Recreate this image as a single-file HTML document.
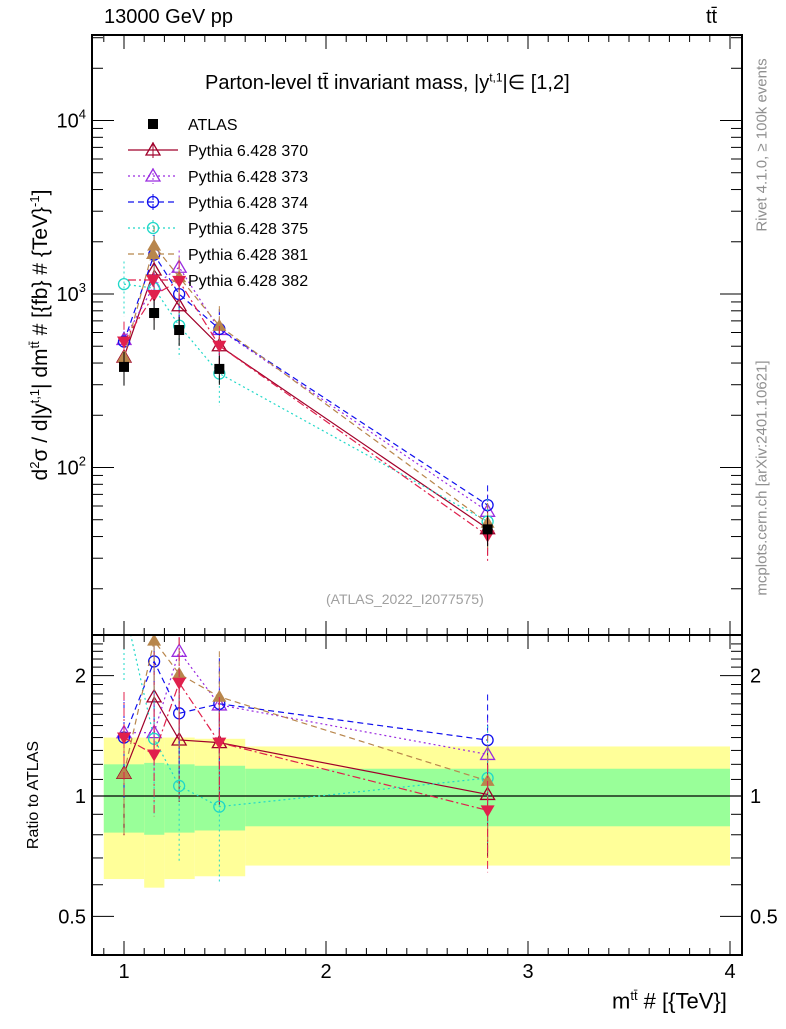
<!DOCTYPE html>
<html><head><meta charset="utf-8"><style>
body{margin:0;background:#fff}
svg{font-family:"Liberation Sans",sans-serif}
</style></head><body>
<svg id="c" width="786" height="1024" xmlns="http://www.w3.org/2000/svg"></svg>
<script>
const xs=[1.0,1.149,1.273,1.472,2.80];
const edges=[0.9,1.1,1.2,1.35,1.6,4.0];
const atlas=[380,777,620,370,44];
const atlasErrRel=[0.22,0.2,0.19,0.19,0.2];
const yelUp=[1.40,1.40,1.40,1.39,1.33];
const yelDn=[0.62,0.59,0.62,0.63,0.67];
const grnUp=[1.20,1.21,1.20,1.19,1.17];
const grnDn=[0.81,0.80,0.81,0.82,0.84];
const names=["Pythia 6.428 370","Pythia 6.428 373","Pythia 6.428 374","Pythia 6.428 375","Pythia 6.428 381","Pythia 6.428 382"];
const s370=[433,1375,856,503,44.4];
const s373=[547,1119,1426,625,55.9];
const s374=[532,1686,998,629,60.7];
const s375=[1140,1080,657,348,48.8];
const s381=[433,1900,1252,655,48];
const s382=[532,987,1190,503,40.5];
const series=[s370,s373,s374,s375,s381,s382];
const colors=["#a0002a","#9a2ce0","#1010ee","#20d8c8","#b8864c","#e0204c"];
const dashes=["","2,3","6,4","2,3","6,4","8,3,2,3"];
const markers=["tri","tri","circ","circ","tri-f","tri-d"];
const errRel=[0.3,0.25,0.3,0.35,0.3,0.3];

const svg=document.getElementById('c');
const NS="http://www.w3.org/2000/svg";
function el(t,a,p){const e=document.createElementNS(NS,t);for(const k in a)e.setAttribute(k,a[k]);(p||svg).appendChild(e);return e;}
const L=92,R=742,T=35,M=635,B=955;
const X=v=>124+(v-1)*202;
const Y=v=>294-(Math.log10(v)-3)*173.5;
const YR=r=>796-Math.log10(r)*400;

for(let i=0;i<5;i++){
  const x0=Math.max(X(edges[i]),L+11),x1=X(edges[i+1]);
  const b=el('rect',{x:x0,y:YR(yelUp[i]),width:x1-x0,height:YR(yelDn[i])-YR(yelUp[i]),fill:'#ffff99'});
  
  
  const g=el('rect',{x:x0,y:YR(grnUp[i]),width:x1-x0,height:YR(grnDn[i])-YR(grnUp[i]),fill:'#99ff99'});
  
  
}
el('line',{x1:L,x2:R,y1:YR(1),y2:YR(1),stroke:'#000','stroke-width':1.2});

function marker(m,x,y,c,g){
  if(m==='circ')el('circle',{cx:x,cy:y,r:5.5,fill:'none',stroke:c,'stroke-width':1.3},g);
  else if(m==='tri')el('polygon',{points:`${x},${y-7} ${x-7},${y+5} ${x+7},${y+5}`,fill:'none',stroke:c,'stroke-width':1.3},g);
  else if(m==='tri-f')el('polygon',{points:`${x},${y-7} ${x-7},${y+5} ${x+7},${y+5}`,fill:c},g);
  else if(m==='tri-d')el('polygon',{points:`${x},${y+7} ${x-7},${y-5} ${x+7},${y-5}`,fill:c},g);
  else el('rect',{x:x-5,y:y-5,width:10,height:10,fill:c},g);
}
series.forEach((s,k)=>{
  const g=el('g',{});
  
  
  const c=colors[k];
  const main=s.map((v,i)=>X(xs[i])+','+Y(v)).join(' ');
  el('polyline',{points:main,fill:'none',stroke:c,'stroke-width':1.2,'stroke-dasharray':dashes[k]},g);
  const rp=s.map((v,i)=>X(xs[i])+','+YR(v/atlas[i]));
  const cp=el('clipPath',{id:'cr'+k},g);el('rect',{x:L,y:M,width:R-L,height:B-M},cp);
  const rg=el('g',{'clip-path':'url(#cr'+k+')'},g);
  el('polyline',{points:rp.join(' '),fill:'none',stroke:c,'stroke-width':1.2,'stroke-dasharray':dashes[k]},rg);
  s.forEach((v,i)=>{
    const x=X(xs[i]),e=errRel[k];
    el('line',{x1:x,x2:x,y1:Y(v*(1+e)),y2:Y(v*(1-e)),stroke:c,'stroke-width':1,'stroke-dasharray':dashes[k]},g);
    marker(markers[k],x,Y(v),c,g);
    const r=v/atlas[i];
    el('line',{x1:x,x2:x,y1:YR(r*(1+e)),y2:YR(r*(1-e)),stroke:c,'stroke-width':1,'stroke-dasharray':dashes[k]},rg);
    marker(markers[k],x,YR(r),c,rg);
  });
});
const ag=el('g',{});


atlas.forEach((v,i)=>{
  const x=X(xs[i]);
  el('line',{x1:x,x2:x,y1:Y(v*(1+atlasErrRel[i])),y2:Y(v*(1-atlasErrRel[i])),stroke:'#000'},ag);
  marker('sq',x,Y(v),'#000',ag);
});

el('rect',{x:L,y:T,width:R-L,height:M-T,fill:'none',stroke:'#000','stroke-width':2});
el('rect',{x:L,y:M,width:R-L,height:B-M,fill:'none',stroke:'#000','stroke-width':2});
for(let v=0.9;v<=4.01;v+=0.1){
  const x=X(v);if(x<L||x>R)continue;
  const maj=Math.abs(v-Math.round(v))<0.01,len=maj?14:7;
  [[T,1],[M,-1],[M,1],[B,-1]].forEach(([y,d])=>el('line',{x1:x,x2:x,y1:y,y2:y+d*len,stroke:'#000','stroke-width':1}));
  if(maj){const t=el('text',{x:x,y:978,'text-anchor':'middle','font-size':20});t.textContent=Math.round(v);
    }
}
for(let d=1;d<=4;d++)for(let m=1;m<10;m++){
  const v=m*Math.pow(10,d),y=Y(v);if(y<T||y>M)continue;
  const len=m===1?22:11;
  el('line',{x1:L,x2:L+len,y1:y,y2:y,stroke:'#000'});el('line',{x1:R,x2:R-len,y1:y,y2:y,stroke:'#000'});
  if(m===1&&d>=2){const t=el('text',{x:L-6,y:y+7,'text-anchor':'end','font-size':20});
    t.innerHTML='10<tspan dy="-9" font-size="13">'+d+'</tspan>';
    }
}
const rt=[0.5,0.6,0.7,0.8,0.9,1,1.1,1.2,1.3,1.4,1.5,1.6,1.7,1.8,1.9,2,2.1,2.2,2.3,2.4];
rt.forEach(r=>{const y=YR(r);if(y<M||y>B)return;const maj=(r===0.5||r===1||r===2),len=maj?22:11;
  el('line',{x1:L,x2:L+len,y1:y,y2:y,stroke:'#000'});el('line',{x1:R,x2:R-len,y1:y,y2:y,stroke:'#000'});
  if(maj){[[L-6,'end'],[R+8,'start']].forEach(([x,a])=>{const t=el('text',{x:x,y:y+7,'text-anchor':a,'font-size':20});t.textContent=String(r);
    });}
});
const lg=el('g',{});
marker('sq',153,124,'#000',lg);
let tt=el('text',{x:188,y:130,'font-size':16},lg);tt.textContent='ATLAS';
names.forEach((n,k)=>{const y=150+k*26;
  el('line',{x1:128,x2:178,y1:y,y2:y,stroke:colors[k],'stroke-width':1.2,'stroke-dasharray':dashes[k]},lg);
  el('line',{x1:153,x2:153,y1:y-8,y2:y+8,stroke:colors[k],'stroke-dasharray':dashes[k]},lg);
  marker(markers[k],153,y,colors[k],lg);
  const t=el('text',{x:188,y:y+6,'font-size':16},lg);t.textContent=n;
  });
</script>
<div style="position:absolute;left:0;top:0;width:786px;height:1024px;font-family:'Liberation Sans',sans-serif;pointer-events:none">
<div style="position:absolute;left:104px;top:6px;font-size:20px">13000 GeV pp</div>
<div style="position:absolute;left:706px;top:6px;font-size:20px">tt̄</div>
<div style="position:absolute;left:205px;top:70px;font-size:20px">Parton-level tt̄ invariant mass, |y<sup style="font-size:12px">t,1</sup>|∈ [1,2]</div>
<div style="position:absolute;left:326px;top:591px;font-size:14px;color:#a0a0a0">(ATLAS_2022_I2077575)</div>
<div style="position:absolute;left:612px;top:988px;font-size:22px">m<sup style="font-size:13px">tt̄</sup> # [{TeV}]</div>
<div style="position:absolute;left:40px;top:335px;font-size:21px;white-space:nowrap;transform:translate(-50%,-50%) rotate(-90deg)">d<sup style="font-size:13px">2</sup>σ / d|y<sup style="font-size:13px">t,1</sup>| dm<sup style="font-size:13px">tt̄</sup> # [{fb} # {TeV}<sup style="font-size:13px">-1</sup>]</div>
<div style="position:absolute;left:34px;top:795px;font-size:16px;white-space:nowrap;transform:translate(-50%,-50%) rotate(-90deg)">Ratio to ATLAS</div>
<div style="position:absolute;left:762px;top:145px;font-size:15px;color:#909090;white-space:nowrap;transform:translate(-50%,-50%) rotate(-90deg)">Rivet 4.1.0, ≥ 100k events</div>
<div style="position:absolute;left:762px;top:478px;font-size:15px;color:#909090;white-space:nowrap;transform:translate(-50%,-50%) rotate(-90deg)">mcplots.cern.ch [arXiv:2401.10621]</div>
</div>
</body></html>
